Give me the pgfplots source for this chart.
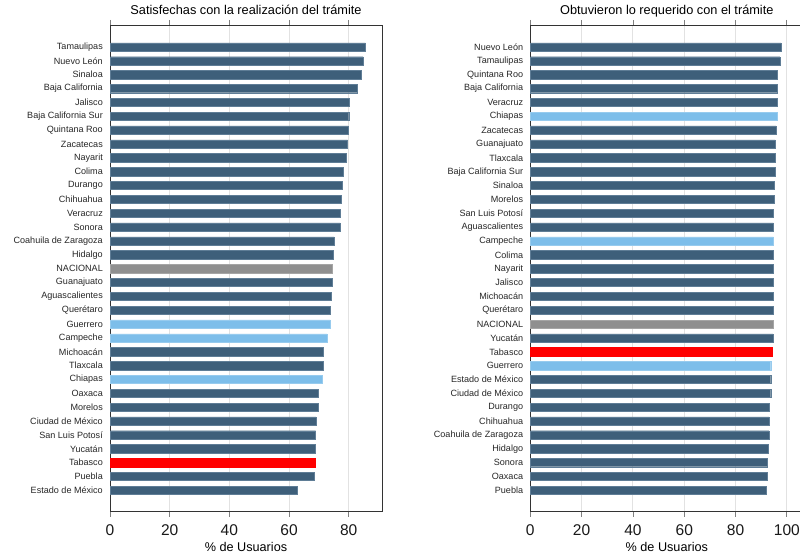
\documentclass[border=0pt]{standalone}
\usepackage{pgfplots}
\pgfplotsset{compat=1.18}
\usepackage{fontspec}
\setmainfont{Liberation Sans}
\definecolor{dark}{RGB}{62,95,122}
\definecolor{darkedge}{RGB}{95,125,150}
\definecolor{light}{RGB}{125,190,234}
\definecolor{nac}{RGB}{143,143,143}
\definecolor{rojo}{RGB}{255,0,0}
\definecolor{gridc}{RGB}{226,226,226}
\pgfplotsset{
  panel/.style={
    scale only axis,
    height=486.7bp,
    xmin=0, ymin=-0.545, ymax=34.59,
    xbar, bar shift=0pt, bar width=8.3bp,
    ytick={1,...,33},
    y tick style={draw=none},
    tick align=outside,
    x tick style={draw=gray, line width=0.8bp},
    major tick length=5bp,
    xmajorgrids,
    grid style={gridc, line width=0.9bp},
    axis line style={draw=black!80, line width=0.9bp},
    yticklabel style={font=\fontsize{9.1}{9.1}\selectfont, text=black!85, anchor=east, inner sep=0pt, xshift=-2bp},
    xticklabel style={font=\fontsize{15.6}{15.6}\selectfont, text=black!90, anchor=base, yshift=-19bp},
    /pgf/number format/assume math mode=true,
    xlabel={\% de Usuarios},
    xlabel style={font=\fontsize{12.7}{12.7}\selectfont, at={(0.5,0)}, anchor=base, yshift=-40bp},
    title style={font=\fontsize{12.8}{12.8}\selectfont, at={(0.5,1)}, anchor=base, yshift=5bp},
    clip=false,
  },
  darkbar/.style={fill=dark, draw=darkedge, line width=0.4bp},
  lightbar/.style={fill=light, draw=light!80!white, line width=0.4bp},
  nacbar/.style={fill=nac, draw=nac!80!white, line width=0.4bp},
  redbar/.style={fill=rojo, draw=rojo, line width=0.4bp},
}
\begin{document}
\begin{tikzpicture}
\begin{axis}[panel,
  at={(110bp,42.3bp)}, anchor=south west,
  width=272bp, xmax=91.15,
  xtick={0,20,40,60,80},
  title={Satisfechas con la realización del trámite},
  yticklabels={Estado de México,Puebla,Tabasco,Yucatán,San Luis Potosí,Ciudad de México,Morelos,Oaxaca,Chiapas,Tlaxcala,Michoacán,Campeche,Guerrero,Querétaro,Aguascalientes,Guanajuato,NACIONAL,Hidalgo,Coahuila de Zaragoza,Sonora,Veracruz,Chihuahua,Durango,Colima,Nayarit,Zacatecas,Quintana Roo,Baja California Sur,Jalisco,Baja California,Sinaloa,Nuevo León,Tamaulipas},
]
\addplot[darkbar] coordinates {
(62.8,1) (68.5,2) (68.7,4) (68.9,5) (69.0,6) (69.8,7) (69.9,8)
(71.3,10) (71.6,11) (73.9,14) (74.2,15) (74.4,16)
(74.7,18) (75.1,19) (77.1,20) (77.3,21) (77.6,22) (77.9,23) (78.3,24)
(79.1,25) (79.6,26) (79.9,27) (80.0,28) (80.2,29) (82.9,30) (84.2,31) (84.8,32) (85.6,33)};
\addplot[lightbar] coordinates {(71.0,9) (72.7,12) (73.8,13)};
\addplot[nacbar] coordinates {(74.5,17)};
\addplot[redbar] coordinates {(68.6,3)};
\end{axis}
\begin{axis}[panel,
  at={(530.3bp,42.3bp)}, anchor=south west,
  width=273bp, xmax=106.4,
  xtick={0,20,40,60,80,100},
  title={Obtuvieron lo requerido con el trámite},
  yticklabels={Puebla,Oaxaca,Sonora,Hidalgo,Coahuila de Zaragoza,Chihuahua,Durango,Ciudad de México,Estado de México,Guerrero,Tabasco,Yucatán,NACIONAL,Querétaro,Michoacán,Jalisco,Nayarit,Colima,Campeche,Aguascalientes,San Luis Potosí,Morelos,Sinaloa,Baja California Sur,Tlaxcala,Guanajuato,Zacatecas,Chiapas,Veracruz,Baja California,Quintana Roo,Tamaulipas,Nuevo León},
]
\addplot[darkbar] coordinates {
(92.0,1) (92.4,2) (92.4,3) (92.8,4) (93.0,5) (93.0,6) (93.0,7) (93.7,8) (93.7,9)
(94.5,12) (94.5,14) (94.5,15) (94.6,16) (94.6,17) (94.6,18)
(94.7,20) (94.7,21) (95.0,22) (95.0,23) (95.3,24) (95.4,25) (95.4,26) (95.7,27)
(96.1,29) (96.4,30) (96.4,31) (97.3,32) (97.7,33)};
\addplot[lightbar] coordinates {(93.7,10) (94.7,19) (96.1,28)};
\addplot[nacbar] coordinates {(94.5,13)};
\addplot[redbar] coordinates {(94.1,11)};
\end{axis}
\pgfresetboundingbox
\path[use as bounding box] (0,0) rectangle (800bp,554bp);
\end{tikzpicture}
\end{document}
